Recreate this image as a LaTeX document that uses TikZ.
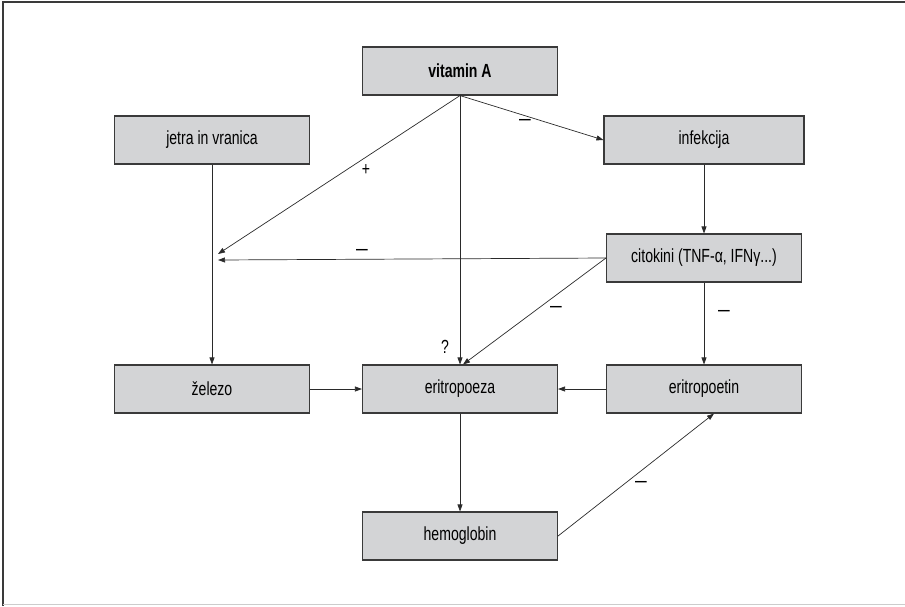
\documentclass[tikz,border=0pt]{standalone}
\usepackage{fontspec}
\setmainfont[FakeStretch=0.74]{Liberation Sans}
\newfontfamily\dashfont{Liberation Sans}
\usetikzlibrary{arrows.meta}
\definecolor{boxfill}{HTML}{D3D4D6}
\definecolor{boxline}{HTML}{3A3A3A}
\definecolor{arr}{HTML}{2A2A2A}
\begin{document}
\begin{tikzpicture}[x=1pt,y=-1pt,
  box/.style={draw=boxline,line width=1.1pt,fill=boxfill,minimum width=195pt,minimum height=48pt,inner sep=0pt,font=\fontsize{19}{22}\selectfont},
  conn/.style={draw=arr,line width=0.7pt,-{Triangle[length=7pt,width=5pt]}},
  lbl/.style={font=\fontsize{19}{22}\selectfont,inner sep=0pt},
  mlbl/.style={font=\dashfont\fontsize{21}{24}\selectfont,inner sep=0pt}]
\useasboundingbox (0,0) rectangle (905,606);
\draw[line width=1.2pt,draw=boxline] (3,606) -- (3,2) -- (905,2);
\draw[line width=1pt,draw=black!20] (3,604) -- (905,604);
\node[box,font=\fontsize{19}{22}\selectfont\bfseries] (vit) at (460,71) {vitamin A};
\node[box] (jet) at (212,140) {jetra in vranica};
\node[box,minimum width=200pt] (inf) at (704,140) {infekcija};
\node[box] (cit) at (704,258) {citokini (TNF-α, IFNγ...)};
\node[box] (zel) at (212,389) {železo};
\node[box] (eri) at (460,389) {eritropoeza};
\node[box] (epo) at (704,389) {eritropoetin};
\node[box] (hem) at (460,536) {hemoglobin};
\coordinate (vtop) at (vit.south);
\coordinate (j1) at (218,254);
\coordinate (j2) at (218,260);
\draw[conn] (vtop) -- (eri.north);
\draw[conn] (vtop) -- (inf.west);
\draw[conn] (vtop) -- (j1);
\draw[conn] (cit.west) -- (j2);
\draw[conn] (jet.south) -- (zel.north);
\draw[conn] (inf.south) -- (cit.north);
\draw[conn] (cit.west) -- ([xshift=3pt]eri.north);
\draw[conn] (cit.south) -- (epo.north);
\draw[conn] (zel.east) -- (eri.west);
\draw[conn] (epo.west) -- (eri.east);
\draw[conn] (eri.south) -- (hem.north);
\draw[conn] (hem.east) -- ([xshift=10pt]epo.south);
\node[lbl] (q) at (445,347) {?};
\node[lbl] (p1) at (366,170) {+};
\node[mlbl] (m1) at (525,122) {–};
\node[mlbl] (m2) at (362,252) {–};
\node[mlbl] (m3) at (556,309) {–};
\node[mlbl] (m4) at (724,313) {–};
\node[mlbl] (m5) at (641,484) {–};
\end{tikzpicture}
\end{document}
